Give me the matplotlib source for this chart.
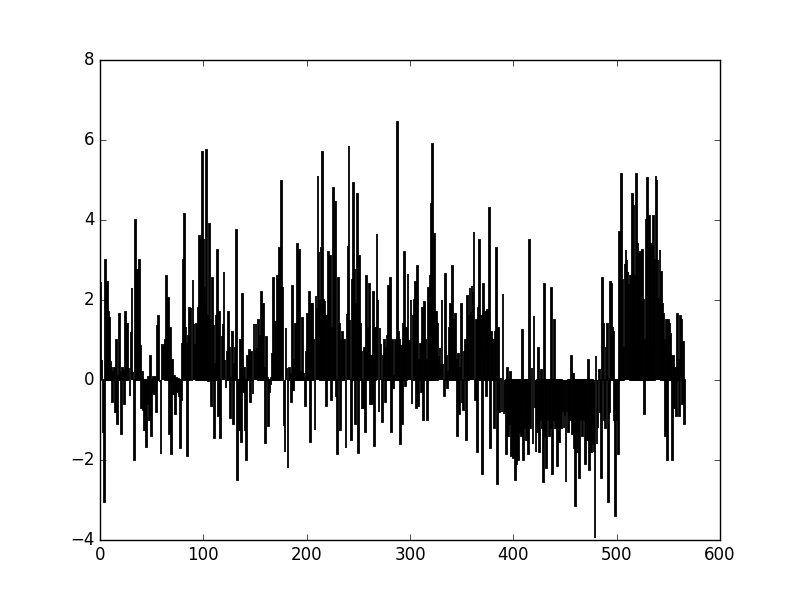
import numpy as np
from matplotlib import pyplot as plt

plt.style.use('classic')

# values, one per bar
values = [
    -1.2, 2.45, 0.5, -1.3, -3.05, 3.0, 1.4, 2.45, 1.7, 1.55,
    0.45, 0.3, -0.55, 0.2, 0.3, -0.8, 1.0, -1.1, 0.1, 1.65,
    0.2, -1.35, 0.3, 0.25, -0.6, 1.7, 0.45, 1.4, 0.3, -0.4,
    1.2, 2.3, 0.2, -2.0, 4.0, 2.7, 2.75, 1.35, 3.0, 0.85,
    -0.7, 0.2, -0.75, -1.25, -0.6, -1.67, -0.6, 0.07, -1.0, 0.6,
    -1.4, -0.3, 0.07, -0.35, 0.07, -0.8, 1.35, 1.6, -0.05, -1.85,
    0.9, 0.85, 0.9, 1.0, 2.6, 1.1, 2.05, -1.35, 1.3, -1.85,
    0.5, -0.35, 0.1, -0.85, 0.05, -0.3, 0.02, -0.4, -1.7, -0.5,
    0.9, 3.0, 4.15, 1.3, 0.9, -1.9, 1.1, 1.8, 1.8, -0.02,
    2.5, 1.4, 0.9, 1.4, 0.5, 1.8, 3.6, 3.5, 1.8, 5.7,
    3.5, 2.3, 1.7, 5.75, 1.6, -0.02, 3.9, 1.5, -0.65, 2.55,
    1.35, -1.45, 0.4, 1.6, 3.25, -0.9, 1.7, -1.45, 1.1, 1.4,
    2.7, 0.5, -0.2, 0.7, 1.7, 0.8, -0.95, 0.05, 1.2, -1.1,
    0.4, 0.8, 3.75, -2.5, -0.1, -1.25, 1.0, -1.55, 2.15, -0.3,
    0.3, -1.25, -2.0, 0.6, 0.4, 0.75, -0.55, 0.7, -0.35, 1.4,
    0.75, 1.4, 0.8, 1.5, 0.6, 1.1, 2.2, 1.5, 1.9, 0.3,
    -1.58, 1.07, 0.05, -1.15, -0.3, -0.1, 0.05, 0.65, 2.55, 0.7,
    1.45, 0.7, 2.6, 0.9, 3.3, 1.2, 4.98, 2.3, -1.15, -1.8,
    1.3, 0.3, -2.2, 0.3, 0.15, -0.55, 2.35, -0.25, 0.5, 1.4,
    0.9, 3.4, 1.2, 3.25, 0.2, 0.15, 1.55, 0.15, 0.05, -0.65,
    0.7, 1.65, 0.9, 2.2, -1.55, 1.9, 1.9, 1.0, -1.25, 2.1,
    1.8, 5.1, 3.2, 2.0, 3.3, 5.7, 2.0, 1.95, 1.6, -0.65,
    1.6, 3.2, 2.0, 3.1, -0.5, 1.3, 4.8, 1.0, 4.45, -0.4,
    -1.85, 2.55, 1.4, -1.25, 1.0, 1.2, 1.0, 1.0, -1.7, 1.65,
    3.35, 5.85, 1.5, -1.5, 2.5, 4.92, 2.75, -1.1, 1.9, 4.65,
    -1.83, 3.1, 1.4, 0.7, -0.7, -0.7, 0.8, -1.3, 2.6, 1.0,
    1.3, 2.4, -0.6, 0.6, -0.6, 2.2, -1.65, 1.3, 3.65, 2.0,
    -0.8, 1.3, 0.9, -1.05, 0.6, 1.0, -0.55, 0.8, 1.1, 2.35,
    1.5, 2.55, -1.3, 1.0, -0.2, 0.1, 1.0, 0.6, 6.45, 1.2,
    1.0, -1.6, 0.85, -1.1, 1.4, 3.2, -0.15, 1.3, 2.65, 1.0,
    1.0, 2.0, -0.6, 1.6, 2.0, 2.45, -0.7, 2.85, -0.65, 0.5,
    0.9, -0.3, 1.8, -1.0, 1.95, 1.0, 0.5, -1.0, 2.3, 1.3,
    2.6, 4.4, 5.9, 2.6, 3.65, 1.7, 1.7, 1.4, 0.6, 0.8,
    0.4, 2.0, 0.4, -0.4, 2.65, 0.6, -0.2, 0.2, 1.3, 1.9,
    1.4, 2.85, 1.5, 1.0, 1.65, 0.5, -1.4, 0.65, -0.85, 0.3,
    1.9, -0.55, -0.75, 0.7, 1.0, -1.5, 2.1, 1.6, 2.3, 1.7,
    2.35, 2.2, 3.7, -0.5, 1.5, -1.8, 1.8, 3.5, 1.0, 1.6,
    -2.35, 2.4, 0.6, 1.7, -0.4, 1.75, 1.1, 4.3, -1.7, 1.2,
    1.0, 1.0, -1.2, 1.2, 3.3, -2.6, 1.3, -0.8, 0.05, -0.8,
    2.15, -0.85, -0.8, -1.85, 0.3, -1.4, -1.1, 0.2, -1.9, -1.4,
    -1.95, -1.5, -2.5, -2.1, -1.6, -2.0, -1.3, -1.0, -1.4, 1.25,
    -2.0, -0.6, -1.2, -1.5, -0.9, -1.85, 3.5, -1.2, 0.3, -1.6,
    1.6, -0.7, -1.8, -1.3, 0.8, -1.8, -1.0, 0.25, -1.2, -2.55,
    2.4, -1.4, -2.2, -0.7, -1.0, -1.4, -1.2, 2.3, -2.35, -1.0,
    1.5, -1.2, -0.8, -2.15, -1.0, -1.55, -0.7, -1.2, -0.8, -1.2,
    -0.9, -2.55, -0.8, -1.3, -0.8, -1.0, 0.6, -1.35, 0.15, -1.7,
    -3.15, -1.5, -1.8, -1.2, -2.45, -1.0, -0.9, -1.4, -0.8, -1.0,
    -2.1, -1.3, -1.5, 0.5, -2.25, -0.7, -1.8, -1.6, -1.8, -3.95,
    0.6, -1.6, -1.2, 0.25, -0.8, -2.45, 2.55, 1.4, -1.0, -1.2,
    0.8, 1.4, -3.05, -0.8, 2.45, 2.4, 1.3, 1.2, -1.0, -3.4,
    -0.8, -1.0, -1.85, 3.7, 3.6, 5.15, 2.5, 0.8, 2.9, 3.25,
    3.0, 2.7, 2.4, 2.6, 1.6, 4.65, 4.35, 2.6, 0.8, 5.15,
    3.4, 3.15, 2.9, 3.2, 1.5, 3.25, 2.0, -0.85, 1.0, 4.0,
    5.05, 0.7, 4.1, 3.4, 1.9, 3.35, 4.1, 3.0, 5.1, 5.0,
    3.0, 2.05, 3.25, 2.7, 1.9, 1.65, 1.0, -1.4, 1.5, -2.0,
    1.5, 1.4, 1.15, 0.6, -2.0, 0.6, -0.7, 0.3, -0.9, 1.65,
    0.5, -0.9, 1.6, 1.5, -0.6, 0.95, -1.1,
]

x = np.arange(len(values))

plt.figure(figsize=(8, 6), dpi=100)
plt.bar(x, values, width=0.8, align='center', color='black', edgecolor='black', linewidth=1.3)
plt.xlim(0, 600)
plt.ylim(-4, 8)

plt.savefig('out.png', dpi=100)
